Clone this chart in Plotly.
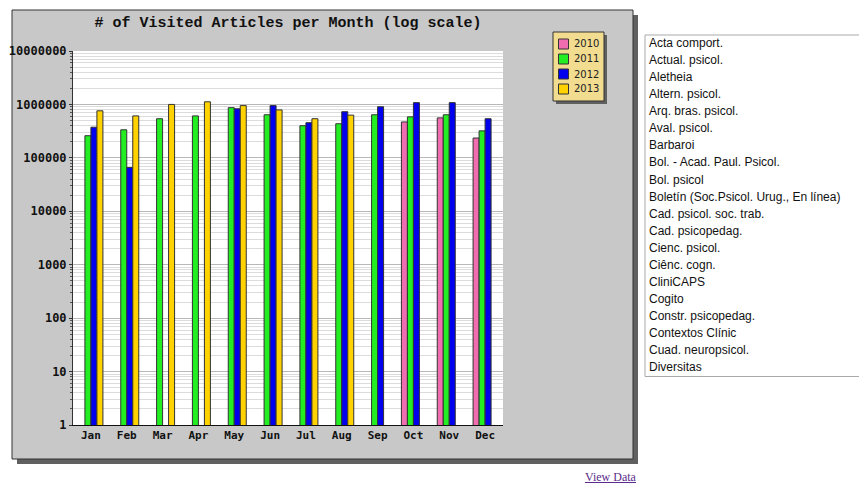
import plotly.graph_objects as go

months = ["Jan", "Feb", "Mar", "Apr", "May", "Jun", "Jul", "Aug", "Sep", "Oct", "Nov", "Dec"]
years = ["2010", "2011", "2012", "2013"]
v2010 = [None, None, None, None, None, None, None, None, None, 470000, 560000, 235000]
v2011 = [260000, 335000, 540000, 610000, 870000, 640000, 400000, 435000, 640000, 585000, 640000, 320000]
v2012 = [375000, 66000, None, None, 830000, 950000, 455000, 730000, 905000, 1080000, 1080000, 540000]
v2013 = [760000, 610000, 1000000, 1120000, 950000, 790000, 540000, 630000, None, None, None, None]
series = [v2010, v2011, v2012, v2013]
colors = ["#F06EB0", "#22EE22", "#0000EE", "#FFD200"]
journals = ["Acta comport.", "Actual. psicol.", "Aletheia", "Altern. psicol.", "Arq. bras. psicol.",
            "Aval. psicol.", "Barbaroi", "Bol. - Acad. Paul. Psicol.", "Bol. psicol",
            "Boletín (Soc.Psicol. Urug., En línea)", "Cad. psicol. soc. trab.", "Cad. psicopedag.",
            "Cienc. psicol.", "Ciênc. cogn.", "CliniCAPS", "Cogito", "Constr. psicopedag.",
            "Contextos Clínic", "Cuad. neuropsicol.", "Diversitas"]
title_text = "# of Visited Articles per Month (log scale)"

OFF = 8  # page body margin
W, H = 867 - OFF, 483 - OFF
L, R, T, B = 73, 503, 51, 425  # plot area in reference pixels


def px(x):
    return (x - L) / (R - L)


def py(y):
    return (B - y) / (B - T)


fig = go.Figure()
for name, vals, col in zip(years, series, colors):
    fig.add_trace(go.Bar(x=months, y=vals, name=name, marker=dict(color=col, line=dict(color="#333333", width=1))))

shapes = []
shapes.append(dict(type="rect", xref="paper", yref="paper", x0=px(17), x1=px(638), y0=py(464), y1=py(15),
                   fillcolor="#606060", line=dict(width=0), layer="below"))
shapes.append(dict(type="rect", xref="paper", yref="paper", x0=px(12), x1=px(633), y0=py(459), y1=py(10),
                   fillcolor="#C8C8C8", line=dict(color="#333333", width=1), layer="below"))
shapes.append(dict(type="rect", xref="x domain", yref="y domain", x0=0, x1=1, y0=0, y1=1,
                   fillcolor="white", line=dict(width=0), layer="below"))
shapes.append(dict(type="rect", xref="paper", yref="paper", x0=px(556), x1=px(607), y0=py(104), y1=py(35),
                   fillcolor="#606060", line=dict(width=0)))
shapes.append(dict(type="rect", xref="paper", yref="paper", x0=px(553), x1=px(604), y0=py(101), y1=py(32),
                   fillcolor="#F2DC90", line=dict(color="#333333", width=1)))
annotations = []
for i, (name, col) in enumerate(zip(years, colors)):
    cy = 44 + 15 * i
    shapes.append(dict(type="rect", xref="paper", yref="paper", x0=px(558.5), x1=px(568.5),
                       y0=py(cy + 5), y1=py(cy - 5), fillcolor=col, line=dict(color="#333333", width=1)))
    annotations.append(dict(xref="paper", yref="paper", x=px(572), y=py(cy), text=name, showarrow=False,
                            xanchor="left", yanchor="middle",
                            font=dict(family="DejaVu Sans", size=10, color="#222222")))
shapes.append(dict(type="rect", xref="paper", yref="paper", x0=px(645), x1=px(880), y0=py(376.5), y1=py(35),
                   fillcolor="white", line=dict(color="#A9A9A9", width=1)))
for i, j in enumerate(journals):
    annotations.append(dict(xref="paper", yref="paper", x=px(647), y=py(43 + 17.07 * i), text=j,
                            showarrow=False, xanchor="left", yanchor="middle",
                            font=dict(family="Liberation Sans", size=12, color="#111111")))
annotations.append(dict(xref="paper", yref="paper", x=px(611), y=py(477), text="<u>View Data</u>",
                        showarrow=False, xanchor="center", yanchor="middle",
                        font=dict(family="Liberation Serif", size=12, color="#5B2C8C")))

fig.update_layout(
    width=W, height=H, autosize=False,
    margin=dict(l=L - OFF, r=867 - R, t=T - OFF, b=483 - B, pad=0),
    paper_bgcolor="white", plot_bgcolor="white",
    barmode="group", bargap=0.33, bargroupgap=0,
    showlegend=False,
    title=dict(text=title_text, x=((L + R) / 2 - OFF) / W, xanchor="center", xref="container",
               y=1 - (22 - OFF) / H, yanchor="middle", yref="container",
               font=dict(family="Liberation Mono", size=15, color="#111111", weight="bold")),
    shapes=shapes, annotations=annotations,
)
fig.update_yaxes(type="log", range=[0, 7], dtick=1, tickformat="d", automargin=False,
                 showline=True, linecolor="#333333", linewidth=1,
                 ticks="outside", ticklen=3, tickcolor="#333333",
                 showgrid=True, gridcolor="#B8B8B8", gridwidth=1,
                 minor=dict(dtick="D1", showgrid=True, gridcolor="#DCDCDC", ticks="outside", ticklen=2,
                            tickcolor="#555555"),
                 tickfont=dict(family="DejaVu Sans Mono", size=12, color="#111111", weight="bold"),
                 zeroline=False, fixedrange=True)
fig.update_xaxes(showline=True, linecolor="#111111", linewidth=1, ticks="", showgrid=False, automargin=False,
                 tickfont=dict(family="DejaVu Sans Mono", size=11, color="#111111", weight="bold"),
                 fixedrange=True)

fig.write_html("out.html")
